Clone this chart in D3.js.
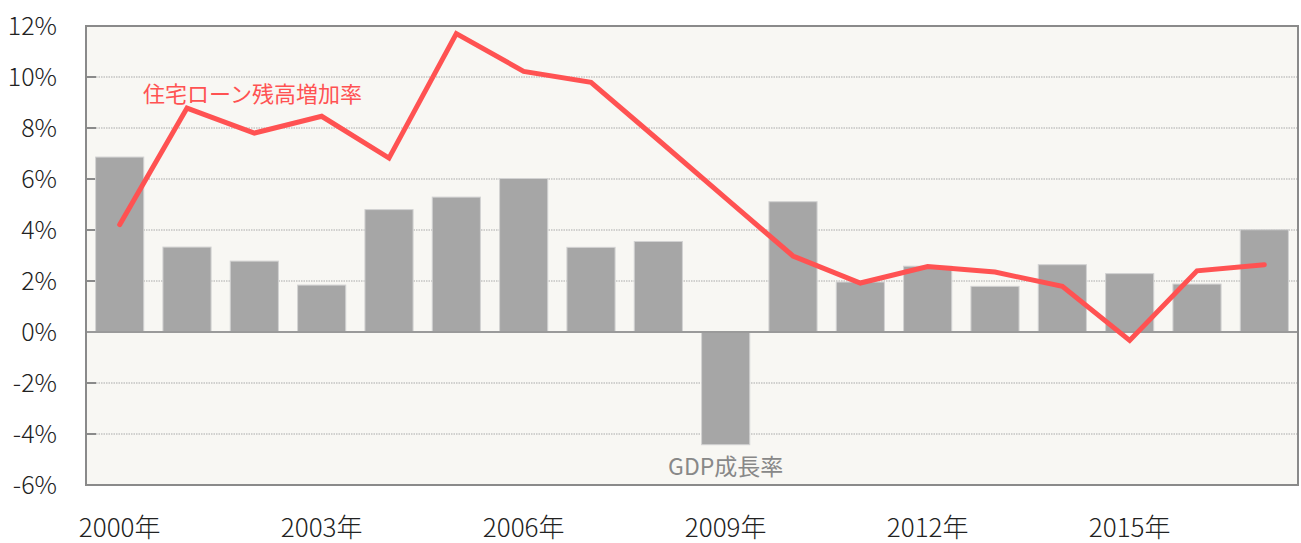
<!DOCTYPE html>
<html>
<head>
<meta charset="utf-8">
<script src="https://cdn.jsdelivr.net/npm/d3@7"></script>
<style>
  body { margin: 0; background: #fff; }
  svg text { font-family: "Noto Sans CJK JP", "Noto Sans", sans-serif; }
</style>
</head>
<body>
<div id="vis"></div>
<script>

// data
var years = [2000, 2001, 2002, 2003, 2004, 2005, 2006, 2007, 2008, 2009, 2010, 2011, 2012, 2013, 2014, 2015, 2016, 2017];
var gdpGrowth = [6.86, 3.33, 2.78, 1.84, 4.80, 5.29, 6.02, 3.32, 3.55, -4.42, 5.11, 1.96, 2.58, 1.79, 2.64, 2.29, 1.88, 4.01];
var loanGrowth = [4.21, 8.78, 7.80, 8.46, 6.82, 11.70, 10.22, 9.79, 7.53, 5.25, 2.98, 1.92, 2.57, 2.35, 1.79, -0.33, 2.40, 2.64];
var yTicks = [-6, -4, -2, 0, 2, 4, 6, 8, 10, 12];
var xLabelYears = [2000, 2003, 2006, 2009, 2012, 2015];

var width = 1301;
var height = 543;
var margin = { top: 26, right: 3, bottom: 58, left: 86 };

var svg = d3.select('#vis')
  .append('svg')
  .attr('width', width)
  .attr('height', height);

var x = d3.scaleBand()
  .domain(years)
  .range([margin.left, width - margin.right]);

var y = d3.scaleLinear()
  .domain([-6, 12])
  .range([height - margin.bottom, margin.top]);

var barW = x.bandwidth() * 0.715;

// plot background
svg.append('rect')
  .attr('x', margin.left)
  .attr('y', margin.top)
  .attr('width', width - margin.right - margin.left)
  .attr('height', height - margin.bottom - margin.top)
  .attr('fill', '#f8f7f3');

// dotted grid lines
svg.selectAll('.grid')
  .data(yTicks.filter(function (d) { return d !== 0 && d !== 12 && d !== -6; }))
  .enter().append('line')
  .attr('class', 'grid')
  .attr('x1', margin.left + 10)
  .attr('x2', width - margin.right)
  .attr('y1', function (d) { return y(d); })
  .attr('y2', function (d) { return y(d); })
  .attr('stroke', '#a9a9a9')
  .attr('stroke-width', 1)
  .attr('stroke-dasharray', '1.5,1');

// left tick marks
svg.selectAll('.tickmark')
  .data(yTicks)
  .enter().append('line')
  .attr('class', 'tickmark')
  .attr('x1', margin.left)
  .attr('x2', margin.left + 10)
  .attr('y1', function (d) { return y(d); })
  .attr('y2', function (d) { return y(d); })
  .attr('stroke', '#8a8a8a')
  .attr('stroke-width', 2);

// GDP bars
svg.selectAll('.bar')
  .data(gdpGrowth)
  .enter().append('rect')
  .attr('class', 'bar')
  .attr('x', function (d, i) { return x(years[i]) + (x.bandwidth() - barW) / 2; })
  .attr('y', function (d) { return y(Math.max(0, d)); })
  .attr('width', barW)
  .attr('height', function (d) { return Math.abs(y(d) - y(0)); })
  .attr('fill', '#a6a6a6')
  .attr('stroke', '#d2d2d2')
  .attr('stroke-width', 1);

// zero line
svg.append('line')
  .attr('x1', margin.left)
  .attr('x2', width - margin.right)
  .attr('y1', y(0))
  .attr('y2', y(0))
  .attr('stroke', '#9a9a9a')
  .attr('stroke-width', 2);

// plot frame
svg.append('rect')
  .attr('x', margin.left)
  .attr('y', margin.top)
  .attr('width', width - margin.right - margin.left)
  .attr('height', height - margin.bottom - margin.top)
  .attr('fill', 'none')
  .attr('stroke', '#8a8a8a')
  .attr('stroke-width', 2);

// loan line
var line = d3.line()
  .x(function (d, i) { return x(years[i]) + x.bandwidth() / 2; })
  .y(function (d) { return y(d); });

svg.append('path')
  .datum(loanGrowth)
  .attr('d', line)
  .attr('fill', 'none')
  .attr('stroke', '#ff5252')
  .attr('stroke-width', 5)
  .attr('stroke-linecap', 'round')
  .attr('stroke-linejoin', 'miter');

// y labels
svg.selectAll('.ylabel')
  .data(yTicks)
  .enter().append('text')
  .attr('class', 'ylabel')
  .attr('x', 57)
  .attr('y', function (d) { return y(d); })
  .attr('dy', '0.36em')
  .attr('text-anchor', 'end')
  .attr('font-size', 25)
  .attr('font-weight', 300)
  .attr('fill', '#222')
  .text(function (d) { return d + '%'; });

// x labels
svg.selectAll('.xlabel')
  .data(xLabelYears)
  .enter().append('text')
  .attr('class', 'xlabel')
  .attr('x', function (d) { return x(d) + x.bandwidth() / 2; })
  .attr('y', 537)
  .attr('text-anchor', 'middle')
  .attr('font-size', 26)
  .attr('font-weight', 300)
  .attr('fill', '#222')
  .text(function (d) { return d + '年'; });

// series labels
svg.append('text')
  .attr('x', 143)
  .attr('y', 102)
  .attr('font-size', 22)
  .attr('fill', '#ff5252')
  .text('住宅ローン残高増加率');

svg.append('text')
  .attr('x', x(2009) + x.bandwidth() / 2)
  .attr('y', 475)
  .attr('text-anchor', 'middle')
  .attr('font-size', 23)
  .attr('fill', '#888')
  .text('GDP成長率');

</script>
</body>
</html>
